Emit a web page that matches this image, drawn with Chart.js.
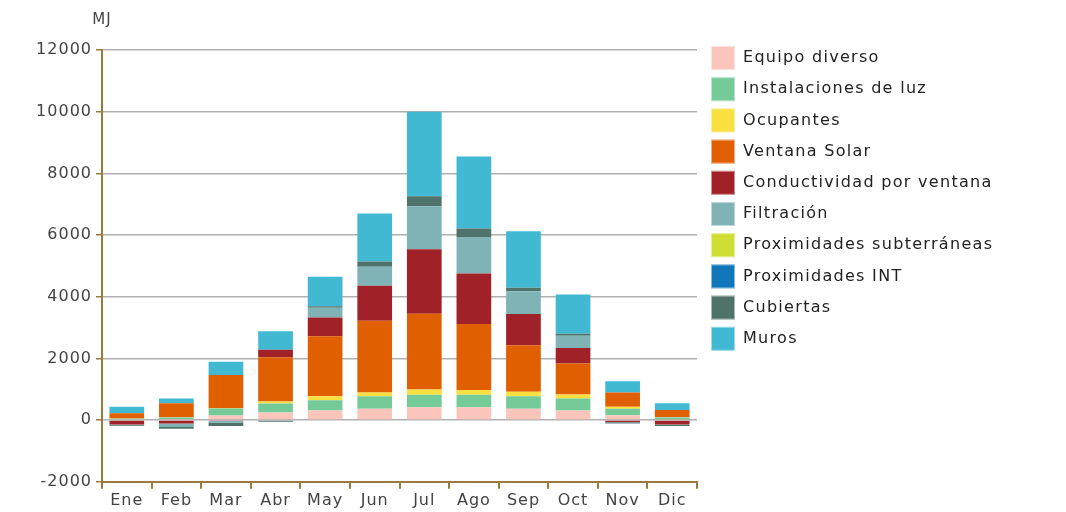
<!DOCTYPE html>
<html>
<head>
<meta charset="utf-8">
<script src="https://cdn.jsdelivr.net/npm/chart.js@4"></script>
<style>
  html, body { margin: 0; padding: 0; background: #fff; }
  #wrap { width: 1066px; height: 512px; }
</style>
</head>
<body>
<div id="wrap"><canvas id="chart"></canvas></div>
<script>
const months = ["Ene", "Feb", "Mar", "Abr", "May", "Jun", "Jul", "Ago", "Sep", "Oct", "Nov", "Dic"]

const equipoDiverso        = [20, 40, 150, 250, 310, 365, 420, 420, 365, 312, 160, 30]
const instalacionesLuz     = [25, 45, 227, 290, 335, 410, 400, 400, 405, 390, 205, 55]
const ocupantes            = [5, 5, 10, 60, 130, 120, 170, 160, 150, 130, 65, 10]
const ventanaSolar         = [170, 453, 1073, 1440, 1945, 2330, 2460, 2140, 1510, 1000, 463, 235]
const conductividad        = [-140, -110, -30, 240, 610, 1130, 2090, 1635, 1010, 505, -60, -140]
const filtracion           = [-20, -110, -50, 0, 310, 620, 1390, 1180, 740, 400, -10, -20]
const proxSubterraneas     = [0, 0, 0, 0, 0, 0, 0, 0, 0, 0, 0, 0]
const proxInt              = [0, 0, 0, 0, 0, 0, 0, 0, 0, 0, 0, 0]
const cubiertas            = [-20, -60, -110, -50, 50, 165, 330, 280, 110, 65, -40, -30]
const muros                = [215, 160, 430, 600, 955, 1560, 2740, 2335, 1830, 1270, 365, 215]

const yTicks = [-2000, 0, 2000, 4000, 6000, 8000, 10000, 12000]

const series = [
  ["Equipo diverso", equipoDiverso, "#fcc5bb"],
  ["Instalaciones de luz", instalacionesLuz, "#74cb98"],
  ["Ocupantes", ocupantes, "#f8e040"],
  ["Ventana Solar", ventanaSolar, "#e05f00"],
  ["Conductividad por ventana", conductividad, "#a02228"],
  ["Filtración", filtracion, "#7fb3b5"],
  ["Proximidades subterráneas", proxSubterraneas, "#cede33"],
  ["Proximidades INT", proxInt, "#1177bb"],
  ["Cubiertas", cubiertas, "#4f736b"],
  ["Muros", muros, "#42b9d2"]
]

const axisBrown = "#9b7b3c"
const font = { family: "'DejaVu Sans'", size: 16 }

// spaced-out lettering like the original renderer (drawing only)
const spacing = {
  id: "spacing",
  beforeDraw(chart) { chart.ctx.letterSpacing = "1px" }
}

// "MJ" over the value axis, plus a column legend in the space kept free on the right
const extras = {
  id: "extras",
  afterDraw(chart) {
    const { ctx, chartArea, scales: { y } } = chart
    ctx.save()
    ctx.font = "15px 'DejaVu Sans'"
    ctx.fillStyle = "#444"
    ctx.textAlign = "center"
    ctx.textBaseline = "middle"
    ctx.fillText("MJ", y.right, 20)

    ctx.font = "16px 'DejaVu Sans'"
    ctx.letterSpacing = "1.3px"
    ctx.textAlign = "left"
    const left = chartArea.right + 14
    chart.data.datasets.forEach((ds, i) => {
      const top = 46 + i * 31.2
      ctx.fillStyle = ds.backgroundColor
      ctx.fillRect(left, top, 24, 24)
      ctx.strokeStyle = "rgba(255,255,255,0.5)"
      ctx.lineWidth = 1
      ctx.strokeRect(left + 0.5, top + 0.5, 23, 23)
      ctx.fillStyle = "#222"
      ctx.fillText(ds.label, left + 32, top + 12)
    })
    ctx.restore()
  }
}

new Chart(document.getElementById("chart"), {
  type: "bar",
  data: {
    labels: months,
    datasets: series.map(([label, data, color]) => ({
      label,
      data,
      backgroundColor: color,
      borderWidth: 0,
      barPercentage: 0.7,
      categoryPercentage: 1
    }))
  },
  options: {
    responsive: true,
    maintainAspectRatio: false,
    animation: false,
    layout: { padding: { top: 50, right: 369, left: 0, bottom: 0 } },
    scales: {
      x: {
        stacked: true,
        border: { color: axisBrown, width: 2 },
        grid: { offset: true, drawOnChartArea: false, tickLength: 7, tickColor: axisBrown, lineWidth: 2 },
        ticks: { color: "#444", font, padding: 2 }
      },
      y: {
        stacked: true,
        min: -2000,
        max: 12000,
        afterBuildTicks(scale) { scale.ticks = yTicks.map(v => ({ value: v })) },
        afterFit(scale) { scale.width = 102 },
        border: { color: axisBrown, width: 2 },
        grid: { color: "#b0b0b0", lineWidth: 1.5, tickLength: 6, tickColor: axisBrown },
        ticks: { color: "#444", font, padding: 4, callback: v => String(v) }
      }
    },
    plugins: {
      legend: { display: false },
      tooltip: { enabled: false }
    }
  },
  plugins: [spacing, extras]
})
</script>
</body>
</html>
